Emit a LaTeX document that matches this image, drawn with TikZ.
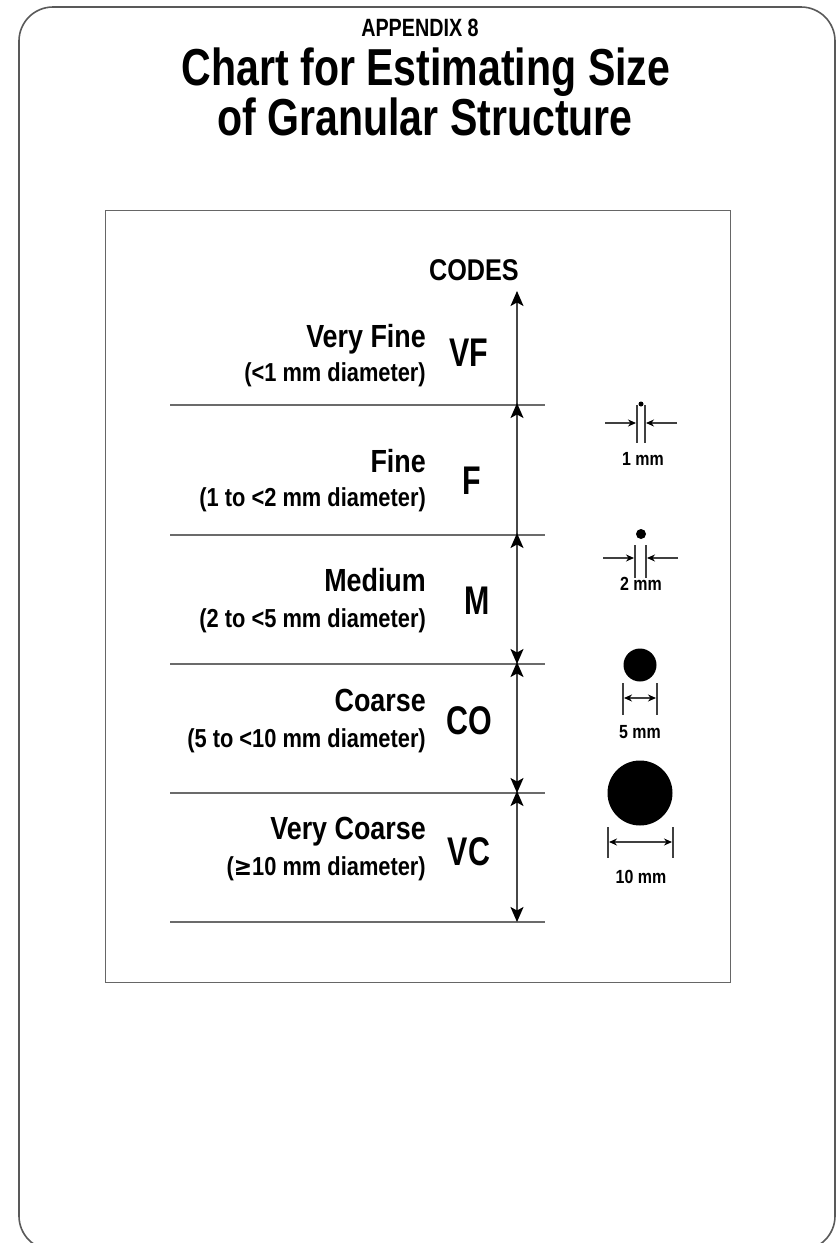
\documentclass[tikz,border=0pt]{standalone}
\usepackage{fontspec}
\setmainfont{Liberation Sans}[FakeStretch=0.84]
\newfontfamily\titlefont{Liberation Sans}[FakeStretch=0.79]
\newfontfamily\codefont{Liberation Sans}[FakeStretch=0.76]
\newfontfamily\symfont{DejaVu Sans}[FakeStretch=0.84]
\usetikzlibrary{arrows.meta}

\tikzset{
  rule/.style={line width=1.6pt, black!58},
  scalearrow/.style={line width=1.5pt, black!72},
  namelbl/.style={anchor=base east, inner sep=0pt, font=\fontsize{32}{34}\selectfont\bfseries},
  diamlbl/.style={anchor=base east, inner sep=0pt, font=\fontsize{26}{28}\selectfont\bfseries},
  codelbl/.style={anchor=base, inner sep=0pt, font=\codefont\fontsize{40}{42}\selectfont\bfseries},
  mmlbl/.style={anchor=base, inner sep=0pt, font=\fontsize{19}{21}\selectfont\bfseries},
  dimline/.style={line width=1.3pt, black!75},
  dimtip/.style={-{Stealth[length=8pt,width=7pt,color=black]}},
  grain/.style={fill=black}
}

\begin{document}
\begin{tikzpicture}[x=1pt, y=-1pt, >={Stealth[length=15pt,width=13pt,inset=3.5pt,color=black]}]
  \useasboundingbox (0,0) rectangle (840,1243);
  % frame
  \draw[line width=1.6pt, black!65, rounded corners=34pt] (19,7) rectangle (835,1250);
  \draw[line width=1pt, black!60] (105,210) rectangle (730,982);
  % headings
  \node[anchor=base, inner sep=0pt, font=\titlefont\fontsize{25}{27}\selectfont\bfseries] (appx) at (420,36) {APPENDIX 8};
  \node[anchor=base, inner sep=0pt, font=\titlefont\fontsize{52}{54}\selectfont\bfseries] (title) at (426,85)
    {Chart for Estimating Size};
  \node[anchor=base, inner sep=0pt, font=\titlefont\fontsize{52}{54}\selectfont\bfseries] (subtitle) at (425,135)
    {of Granular Structure};
  % class boundaries
  \coordinate (top) at (517,291);
  \coordinate (b1) at (517,405);
  \coordinate (b2) at (517,535);
  \coordinate (b3) at (517,664);
  \coordinate (b4) at (517,793);
  \coordinate (b5) at (517,922);
  \draw[rule] (170,405) -- (545,405);
  \draw[rule] (170,535) -- (545,535);
  \draw[rule] (170,664) -- (545,664);
  \draw[rule] (170,793) -- (545,793);
  \draw[rule] (170,922) -- (545,922);
  % code arrows
  \node[anchor=base, inner sep=0pt, font=\fontsize{30}{32}\selectfont\bfseries] (codes) at (474,280) {CODES};
  \draw[scalearrow,->] (b1) -- (top);
  \draw[scalearrow,->] (b2) -- ([yshift=2pt]b1);
  \draw[scalearrow,<->] ([yshift=2pt]b2) -- (b3);
  \draw[scalearrow,<->] ([yshift=2pt]b3) -- (b4);
  \draw[scalearrow,<->] ([yshift=2pt]b4) -- (b5);
  % very fine
  \node[namelbl] (vfname) at (426,347) {Very Fine};
  \node[diamlbl] (vfdiam) at (426,381) {(<1 mm diameter)};
  \node[codelbl] (vf) at (469,366) {VF};
  % fine
  \node[namelbl] (fname) at (426,472) {Fine};
  \node[diamlbl] (fdiam) at (426,506) {(1 to <2 mm diameter)};
  \node[codelbl] (f) at (472,494) {F};
  % medium
  \node[namelbl] (mname) at (426,591) {Medium};
  \node[diamlbl] (mdiam) at (426,627) {(2 to <5 mm diameter)};
  \node[codelbl] (m) at (477,614) {M};
  % coarse
  \node[namelbl] (coname) at (426,711) {Coarse};
  \node[diamlbl] (codiam) at (426,747) {(5 to <10 mm diameter)};
  \node[codelbl] (co) at (469,734) {CO};
  % very coarse
  \node[namelbl] (vcname) at (426,839) {Very Coarse};
  \node[diamlbl] (vcdiam) at (426,875) {({\symfont ≥}10 mm diameter)};
  \node[codelbl] (vc) at (469,865) {VC};
  % grain sizes, 1 mm
  \fill[grain] (641,404) circle (2.5);
  \draw[dimline] (637,405) -- (637,443);
  \draw[dimline] (645,405) -- (645,443);
  \draw[dimline,dimtip] (605,423) -- (636,423);
  \draw[dimline,dimtip] (677,423) -- (646,423);
  \node[mmlbl] (mm1) at (643,465) {1 mm};
  % 2 mm
  \fill[grain] (641,534) circle (5);
  \draw[dimline] (635,545) -- (635,578);
  \draw[dimline] (646,545) -- (646,578);
  \draw[dimline,dimtip] (603,558) -- (634,558);
  \draw[dimline,dimtip] (678,558) -- (647,558);
  \node[mmlbl] (mm2) at (641,590) {2 mm};
  % 5 mm
  \fill[grain] (640,665) circle (16.5);
  \draw[dimline] (623,683) -- (623,715);
  \draw[dimline] (657,683) -- (657,715);
  \draw[dimline,dimtip] (640,698) -- (624,698);
  \draw[dimline,dimtip] (640,698) -- (656,698);
  \node[mmlbl] (mm5) at (640,738) {5 mm};
  % 10 mm
  \fill[grain] (640,793) circle (32.5);
  \draw[dimline] (608,827) -- (608,858);
  \draw[dimline] (673,827) -- (673,858);
  \draw[dimline,dimtip] (640,842) -- (609,842);
  \draw[dimline,dimtip] (640,842) -- (672,842);
  \node[mmlbl] (mm10) at (641,883) {10 mm};
\end{tikzpicture}
\end{document}
